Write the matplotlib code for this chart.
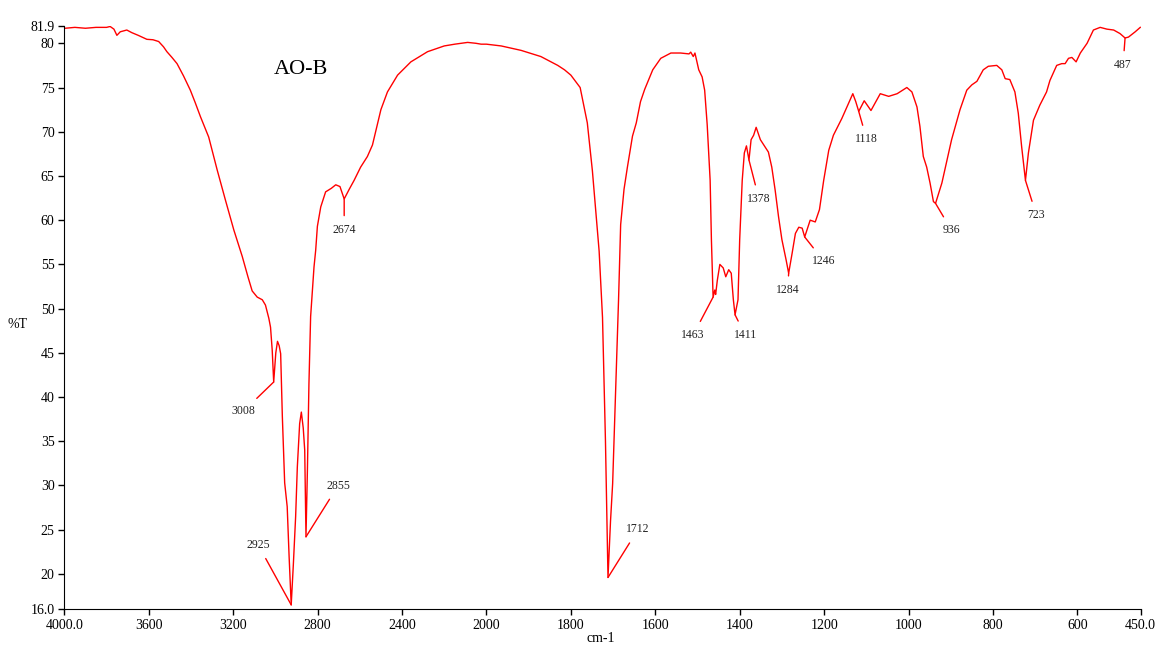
import matplotlib
matplotlib.use('Agg')
import matplotlib.pyplot as plt
import numpy as np

# IR spectrum of AO-B
wavenumber = [3996, 3950, 3900, 3850, 3800, 3783, 3765, 3751, 3735, 3704, 3680, 3650,
              3609, 3580, 3553, 3530, 3514, 3490, 3466, 3435, 3403, 3380, 3355, 3316,
              3276, 3237, 3197, 3157, 3130, 3110, 3086, 3062, 3047, 3031, 3023, 3015,
              3008, 2998, 2990, 2982, 2975, 2967, 2956, 2944, 2935, 2925, 2915, 2904,
              2896, 2885, 2877, 2868, 2861, 2855, 2848, 2841, 2833, 2817, 2809, 2801,
              2785, 2762, 2735, 2714, 2694, 2674, 2650, 2627, 2596, 2564, 2540, 2520,
              2500, 2469, 2421, 2358, 2279, 2200, 2150, 2089, 2050, 2025, 2000, 1965,
              1918, 1871, 1831, 1815, 1800, 1778, 1761, 1749, 1733, 1725, 1718, 1712,
              1706, 1701, 1693, 1687, 1682, 1674, 1666, 1654, 1645, 1635, 1625, 1606,
              1587, 1563, 1540, 1520, 1516, 1510, 1506, 1497, 1489, 1483, 1477, 1470,
              1467, 1463, 1459, 1457, 1453, 1447, 1439, 1433, 1426, 1420, 1415, 1411,
              1404, 1400, 1394, 1389, 1384, 1378, 1373, 1367, 1361, 1351, 1340, 1332,
              1324, 1316, 1308, 1300, 1290, 1284, 1276, 1268, 1260, 1252, 1246, 1233,
              1221, 1211, 1201, 1189, 1178, 1158, 1146, 1132, 1125, 1118, 1105, 1089,
              1067, 1047, 1027, 1004, 992, 980, 973, 965, 957, 949, 941, 936,
              921, 898, 878, 862, 850, 838, 823, 811, 791, 779, 771, 760,
              748, 740, 732, 723, 716, 704, 689, 673, 665, 649, 637, 629,
              621, 613, 603, 593, 577, 562, 546, 530, 514, 499, 487, 479,
              463, 451]
transmittance = [81.7, 81.8, 81.7, 81.8, 81.8, 81.9, 81.6, 80.9, 81.3, 81.5, 81.2, 80.9,
                 80.45, 80.4, 80.2, 79.6, 79.05, 78.4, 77.7, 76.3, 74.7, 73.3, 71.7, 69.4,
                 65.7, 62.3, 58.9, 55.9, 53.6, 52.0, 51.3, 51.0, 50.4, 48.9, 47.9, 45.3,
                 41.7, 45.0, 46.3, 45.8, 44.9, 37.8, 30.3, 27.6, 22.0, 16.5, 21.0, 26.5,
                 32.1, 37.0, 38.3, 36.5, 34.0, 24.2, 32.0, 41.5, 49.1, 54.7, 56.6, 59.3,
                 61.5, 63.2, 63.6, 64.0, 63.8, 62.4, 63.5, 64.5, 66.0, 67.2, 68.5, 70.5,
                 72.5, 74.5, 76.4, 77.9, 79.05, 79.7, 79.9, 80.1, 80.0, 79.9, 79.9, 79.7,
                 79.2, 78.5, 77.5, 77.0, 76.4, 75.0, 71.0, 65.6, 56.5, 49.0, 35.0, 19.6,
                 26.0, 30.2, 42.0, 51.0, 59.5, 63.5, 66.0, 69.5, 71.0, 73.4, 74.8, 77.0,
                 78.3, 78.9, 78.9, 78.8, 79.0, 78.5, 78.9, 77.0, 76.2, 74.7, 70.8, 64.5,
                 57.8, 51.3, 52.1, 51.6, 53.2, 55.0, 54.6, 53.6, 54.4, 54.0, 51.0, 49.3,
                 51.0, 57.8, 64.5, 67.6, 68.4, 66.8, 69.1, 69.6, 70.5, 69.1, 68.3, 67.7,
                 66.0, 63.4, 60.4, 57.8, 55.5, 54.0, 56.2, 58.5, 59.2, 59.1, 58.1, 60.0,
                 59.8, 61.2, 64.5, 67.9, 69.6, 71.5, 72.8, 74.3, 73.4, 72.3, 73.5, 72.4,
                 74.3, 74.0, 74.3, 75.0, 74.5, 72.8, 70.6, 67.2, 66.0, 64.2, 62.1, 61.9,
                 64.2, 69.1, 72.5, 74.7, 75.3, 75.7, 77.0, 77.4, 77.5, 77.0, 76.0, 75.9,
                 74.5, 72.1, 68.3, 64.5, 67.6, 71.3, 73.0, 74.5, 75.8, 77.5, 77.7, 77.7,
                 78.3, 78.4, 77.9, 78.9, 80.0, 81.5, 81.8, 81.6, 81.5, 81.1, 80.6, 80.7,
                 81.3, 81.8]

peak_wn = [3008, 2925, 2855, 2674, 1712, 1463, 1411, 1378, 1284, 1246, 1118, 936, 723, 487]
peak_labels = [str(p) for p in peak_wn]
# label offsets in pixels (layout only)
label_offsets = [(-30, -29), (-33, 60), (32, 51), (0, -31), (30, 48), (-20, -38), (10, -20),
                 (10, -39), (-1, -17), (19, -24), (8, -28), (16, -27), (11, -35), (-2, -27)]

x_ticks = [4000, 3600, 3200, 2800, 2400, 2000, 1800, 1600, 1400, 1200, 1000, 800, 600, 450]
x_tick_labels = ['4000.0', '3600', '3200', '2800', '2400', '2000', '1800', '1600', '1400',
                 '1200', '1000', '800', '600', '450.0']
y_ticks = [16.0, 20, 25, 30, 35, 40, 45, 50, 55, 60, 65, 70, 75, 80, 81.9]
y_tick_labels = ['16.0', '20', '25', '30', '35', '40', '45', '50', '55', '60', '65', '70',
                 '75', '80', '81.9']

plt.rcParams['font.family'] = ['Liberation Serif', 'DejaVu Serif']


# the instrument doubles the scale below 2000 cm-1
def fwd(x):
    x = np.asarray(x, dtype=float)
    return np.where(x >= 2000, x, 2 * x - 2000)


def inv(u):
    u = np.asarray(u, dtype=float)
    return np.where(u >= 2000, u, (u + 2000) / 2)


fig = plt.figure(figsize=(11.57, 6.46), dpi=100)
ax = fig.add_axes([0.0556, 0.0568, 0.9303, 0.9022])
ax.set_xscale('function', functions=(fwd, inv))
ax.plot(wavenumber, transmittance, color='red', lw=1.0)

wn_arr = np.array(wavenumber)
tr_arr = np.array(transmittance)
for p, lab, off in zip(peak_wn, peak_labels, label_offsets):
    t = tr_arr[wn_arr == p][0]
    ax.annotate(lab, xy=(p, t), xytext=off, textcoords='offset pixels',
                ha='center', va='center', fontsize=8.5, color='#222222',
                arrowprops=dict(arrowstyle='-', color='red', lw=1.0, shrinkA=4, shrinkB=0))

ax.set_xlim(4000, 450)
ax.set_ylim(16.0, 81.9)
ax.set_xticks(x_ticks)
ax.set_xticklabels(x_tick_labels)
ax.set_yticks(y_ticks)
ax.set_yticklabels(y_tick_labels)
ax.minorticks_off()
ax.tick_params(direction='out', length=4, width=1, labelsize=10, pad=3)
ax.spines['top'].set_visible(False)
ax.spines['right'].set_visible(False)

fig.text(301 / 1157, 1 - 70 / 646, 'AO-B', fontsize=16, ha='center', va='center')
fig.text(18 / 1157, 1 - 325 / 646, '%T', fontsize=10, ha='center', va='center')
fig.text(601 / 1157, 1 - 638 / 646, 'cm-1', fontsize=10, ha='center', va='center')

fig.savefig('out.png', dpi=100)
